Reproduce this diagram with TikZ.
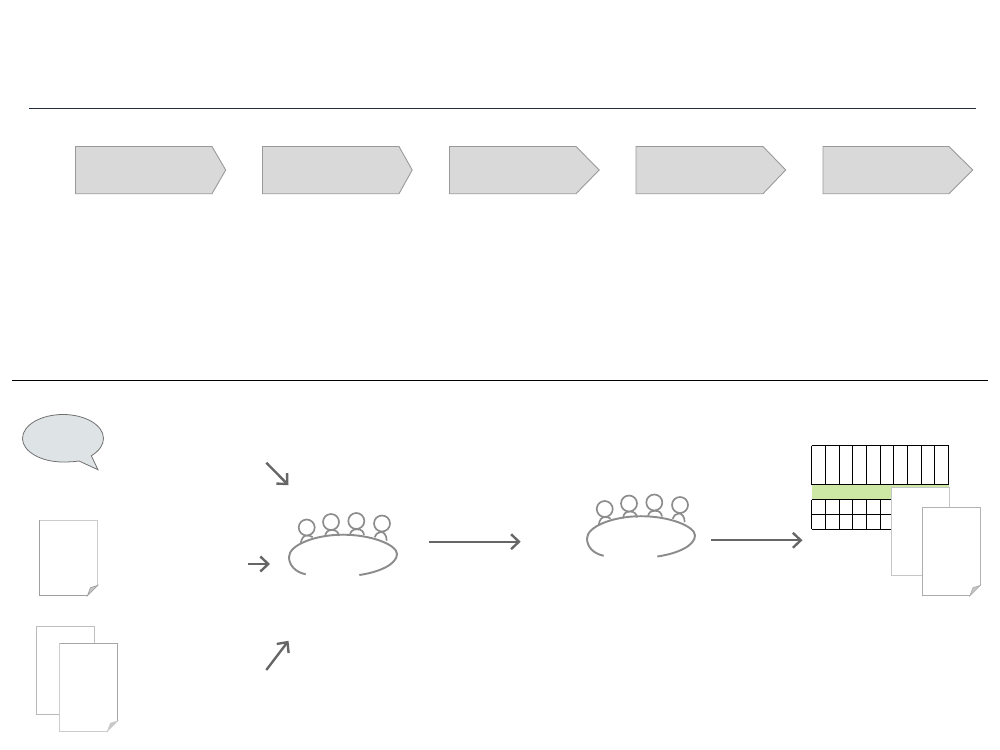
\documentclass[tikz,border=0pt]{standalone}
\usetikzlibrary{arrows.meta}
\definecolor{rulenavy}{HTML}{1F2D3D}
\definecolor{chevfill}{HTML}{D9D9D9}
\definecolor{chevline}{HTML}{999999}
\definecolor{bubblefill}{HTML}{DEE3E5}
\definecolor{bubbleline}{HTML}{707070}
\definecolor{flowgrey}{HTML}{666666}
\definecolor{tablegrey}{HTML}{8C8C8C}
\definecolor{rowgreen}{HTML}{CDE8A5}
\definecolor{foldgrey}{HTML}{C8C8C8}
\tikzset{
  chevron/.style={fill=chevfill,draw=chevline,line width=0.5pt},
  flowarrow/.style={draw=flowgrey,line width=1.35pt,-{Straight Barb[length=4.5pt,width=8.5pt,line width=1.35pt]}},
  person/.style={draw=tablegrey,line width=0.95pt,fill=white},
  desk/.style={draw=tablegrey,line width=1.1pt},
  grid line/.style={draw=black,line width=0.55pt},
  meeting/.pic={
    \draw[person] (300.7,543.3) .. controls (301.5,538) and (304,535.5) .. (306.7,535.5) .. controls (309,535.5) and (311.5,536) .. (312.7,537.3);
    \draw[person] (325,536.7) .. controls (325.5,532) and (328,530) .. (332,530) .. controls (336,530) and (338.5,532) .. (339,536);
    \draw[person] (350,535) .. controls (350.5,531) and (353,529.3) .. (357,529.3) .. controls (361,529.3) and (363.5,531) .. (364,535);
    \draw[person] (374.7,537.3) .. controls (376,534) and (378,532) .. (381,532) .. controls (384,532) and (386.5,535) .. (386.7,540.7);
    \draw[person] (306.7,527.5) circle[radius=8];
    \draw[person] (331,522) circle[radius=8];
    \draw[person] (356.3,521) circle[radius=8];
    \draw[person] (382,523.5) circle[radius=8];
    \draw[desk] (305.7,574.3) .. controls (295,572) and (289,565) .. (289,557)
      .. controls (289,545) and (315,534.7) .. (343,534.7)
      .. controls (372,534.7) and (397,545) .. (397,554)
      .. controls (397,564) and (380,572) .. (359.3,575);
  }
}
% x, y, w, h, left/bottom colour, top/right colour
\newcommand{\docsheet}[6]{%
  \fill[white] (#1,#2) rectangle ++(#3,#4);
  \draw[draw=#5,line width=0.55pt] (#1,#2) -- ++(0,#4) -- ++(#3-10,0);
  \draw[draw=#6,line width=0.55pt] (#1,#2) -- ++(#3,0) -- ++(0,#4-10);
}
\newcommand{\docfold}[6]{%
  \docsheet{#1}{#2}{#3}{#4}{#5}{#6}
  \fill[white] (#1+#3-10,#2+#4) -- ++(10,-10) -- ++(0,10) -- cycle;
  \draw[fill=foldgrey,draw=#5,line width=0.4pt] (#1+#3-10,#2+#4) -- ++(10,-10) -- ++(-7,2.2) -- cycle;
}
\begin{document}
\begin{tikzpicture}[x=0.02cm,y=-0.02cm]
\useasboundingbox (0,0) rectangle (1000,750);
\fill[white] (0,0) rectangle (1000,750);

\draw[rulenavy,line width=0.45pt] (29,108.5) -- (975.5,108.5);
\draw[black,line width=0.45pt] (12,380.5) -- (988,380.5);

\foreach \x/\n/\t in {75.5/212/225.7,262.5/399/412.2,449.5/576/599.2,636/763/785.7,823/949/972.7}
  \draw[chevron] (\x,146.5) -- (\n,146.5) -- (\t,170) -- (\n,193.7) -- (\x,193.7) -- cycle;

% speech bubble
\draw[fill=bubblefill,draw=bubbleline,line width=0.45pt]
  (79,461) -- (98,469.7) -- (91.3,455.8)
  .. controls (99,451) and (103.5,445) .. (103.5,438.5)
  .. controls (103.5,425) and (85,414.5) .. (63,414.5)
  .. controls (41,414.5) and (22.5,425) .. (22.5,438.5)
  .. controls (22.5,451.5) and (41,462) .. (63,462)
  .. controls (68,462) and (74,461.8) .. (79,461) -- cycle;

% left documents
\docfold{39.5}{520}{58}{75.5}{gray!75}{gray!40}
\docsheet{36}{626.5}{58}{88}{gray!55}{gray!50}
\draw[gray!55,line width=0.55pt] (84,714.5) -- (60,714.5);
\docfold{59.5}{643}{58}{88}{gray!40}{gray!70}

% meetings
\pic {meeting};
\pic[shift={(298,-18.5)}] {meeting};

% table
\fill[rowgreen] (811.5,484.5) rectangle (949,499.5);
\foreach \y in {445.5,484.5,499.5,514.5,529}
  \draw[grid line] (811.5,\y) -- (949,\y);
\foreach \x in {811.5,825.3,839.3,852.3,866.3,880.3,893.3,907.3,921.3,934.3,948.5}{
  \draw[grid line] (\x,445.5) -- (\x,484.5);
  \draw[grid line] (\x,499.5) -- (\x,529);
}

% right documents
\docsheet{891.5}{487}{58}{88}{gray!45}{gray!45}
\draw[gray!45,line width=0.55pt] (949.5,570) -- (949.5,575) -- (930,575);
\docfold{922}{507}{58}{88.5}{gray!65}{gray!60}

% arrows
\coordinate (a1s) at (266.3,462.7); \coordinate (a1e) at (288.5,485.2);
\coordinate (a2s) at (248,564);     \coordinate (a2e) at (270,564);
\coordinate (a3s) at (266.3,670);   \coordinate (a3e) at (288.5,640.8);
\coordinate (a4s) at (429,541.7);   \coordinate (a4e) at (520.7,541.7);
\coordinate (a5s) at (711,540.3);   \coordinate (a5e) at (802.5,540.3);
\foreach \s/\e in {a1s/a1e,a2s/a2e,a3s/a3e,a4s/a4e,a5s/a5e}
  \draw[flowarrow] (\s) -- (\e);
\end{tikzpicture}
\end{document}
